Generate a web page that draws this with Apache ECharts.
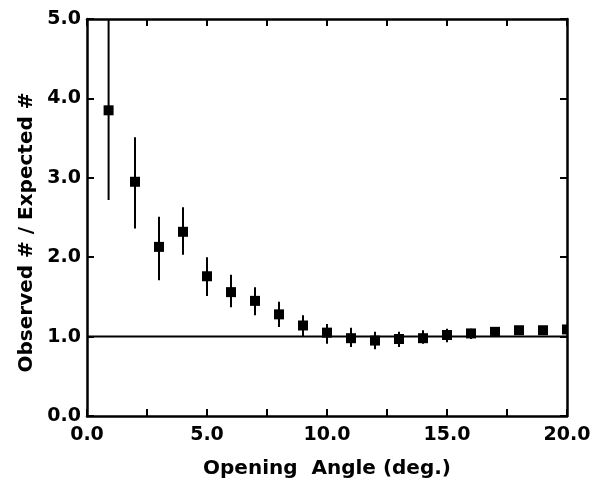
<!DOCTYPE html>
<html>
<head>
<meta charset="utf-8">
<script src="https://cdn.jsdelivr.net/npm/echarts@6/dist/echarts.min.js"></script>
<style>
  html, body { margin: 0; padding: 0; background: #fff; }
  #chart { width: 596px; height: 488px; }
</style>
</head>
<body>
<div id="chart"></div>
<script>
// values
const angles = [0.9, 2, 3, 4, 5, 6, 7, 8, 9, 10, 11, 12, 13, 14, 15, 16, 17, 18, 19, 20];
const ratio = [3.85, 2.95, 2.13, 2.32, 1.76, 1.56, 1.45, 1.28, 1.14, 1.05, 0.98, 0.95, 0.97, 0.98, 1.02, 1.04, 1.06, 1.08, 1.08, 1.09];
const errLow = [2.72, 2.36, 1.71, 2.03, 1.51, 1.37, 1.27, 1.12, 1.0, 0.91, 0.87, 0.84, 0.87, 0.91, 0.93, 0.97, 1.0, 1.04, 1.04, 1.05];
const errHigh = [5.3, 3.51, 2.51, 2.63, 2.0, 1.78, 1.62, 1.44, 1.27, 1.16, 1.11, 1.06, 1.06, 1.08, 1.1, 1.1, 1.12, 1.12, 1.12, 1.13];
const refLine = [[0, 1], [20, 1]];

const font = '"DejaVu Sans", sans-serif';

const chart = echarts.init(document.getElementById('chart'));

// shared axis look: black frame, ticks inward
function axisBase(extra) {
    return Object.assign({
        type: 'value',
        axisLine: { show: true, onZero: false, lineStyle: { color: '#000', width: 2.5 } },
        axisTick: { show: true, inside: true, length: 7, lineStyle: { color: '#000', width: 2 } },
        splitLine: { show: false }
    }, extra);
}

const option = {
    animation: false,
    grid: { left: 87, right: 29, top: 19, bottom: 72 },
    xAxis: [
        axisBase({
            min: 0, max: 20, interval: 2.5, position: 'bottom',
            name: 'Opening  Angle (deg.)', nameLocation: 'middle', nameGap: 43,
            nameTextStyle: { color: '#000', fontSize: 20, fontFamily: font, fontWeight: 'bold' },
            axisLabel: {
                color: '#000', fontSize: 19, fontFamily: font, fontWeight: 'bold', margin: 10,
                formatter: v => (v % 5 === 0 ? v.toFixed(1) : '')
            }
        }),
        axisBase({ min: 0, max: 20, interval: 2.5, position: 'top', axisLabel: { show: false } })
    ],
    yAxis: [
        axisBase({
            min: 0, max: 5, interval: 1, position: 'left',
            name: 'Observed # / Expected #', nameLocation: 'middle', nameGap: 50,
            nameTextStyle: {
                color: '#000', fontSize: 20, fontFamily: font, fontWeight: 'bold',
                padding: [0, 30, 0, 0]
            },
            axisLabel: {
                color: '#000', fontSize: 19, fontFamily: font, fontWeight: 'bold', margin: 6,
                formatter: v => v.toFixed(1)
            }
        }),
        axisBase({ min: 0, max: 5, interval: 1, position: 'right', axisLabel: { show: false } })
    ],
    series: [
        {
            type: 'line',
            data: refLine,
            symbol: 'none',
            lineStyle: { color: '#000', width: 2 },
            silent: true
        },
        {
            // error bars + square markers
            type: 'custom',
            clip: true,
            data: angles.map((a, i) => [a, ratio[i], errLow[i], errHigh[i]]),
            renderItem: function (params, api) {
                const x = api.value(0);
                const c = api.coord([x, api.value(1)]);
                const lo = api.coord([x, api.value(2)]);
                const hi = api.coord([x, api.value(3)]);
                const s = 10;
                return {
                    type: 'group',
                    children: [
                        {
                            type: 'line',
                            shape: { x1: lo[0], y1: lo[1], x2: hi[0], y2: hi[1] },
                            style: { stroke: '#000', lineWidth: 2 }
                        },
                        {
                            type: 'rect',
                            shape: { x: c[0] - s / 2, y: c[1] - s / 2, width: s, height: s },
                            style: { fill: '#000' }
                        }
                    ]
                };
            },
            encode: { x: 0, y: 1 }
        }
    ]
};
chart.setOption(option);
</script>
</body>
</html>
